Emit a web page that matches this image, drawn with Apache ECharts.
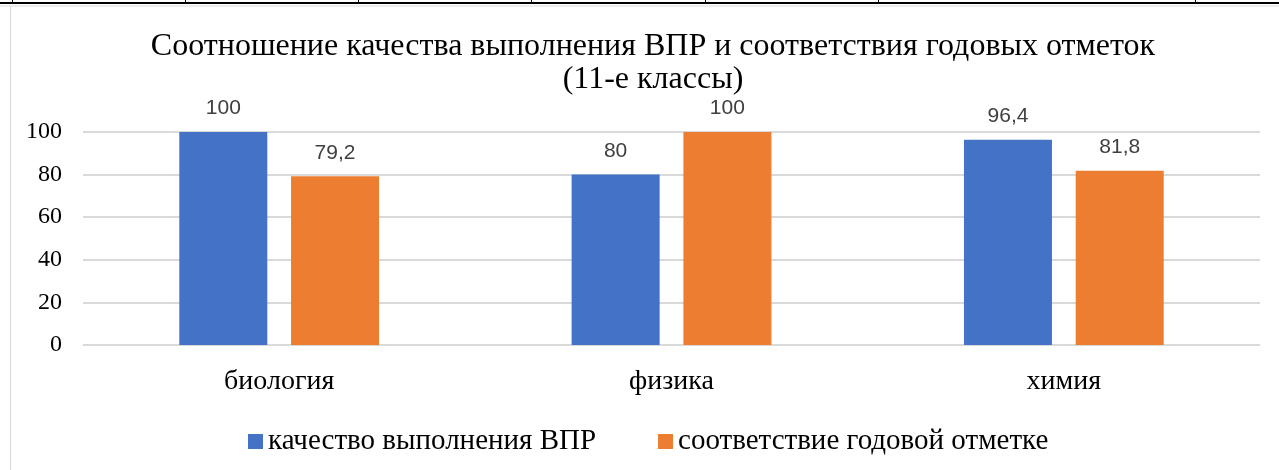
<!DOCTYPE html>
<html>
<head>
<meta charset="utf-8">
<script src="https://cdn.jsdelivr.net/npm/echarts@6/dist/echarts.min.js"></script>
<style>
  html, body { margin: 0; padding: 0; background: #fff; }
  #chart { width: 1279px; height: 470px; }
</style>
</head>
<body>
<div id="chart"></div>
<script>
const categories = ["биология", "физика", "химия"];
const seriesNames = ["качество выполнения ВПР", "соответствие годовой отметке"];
const qualityValues = [100, 80, 96.4];
const gradeValues = [79.2, 100, 81.8];
const yTicks = [0, 20, 40, 60, 80, 100];

const serif = "Liberation Serif";
const sans = "Liberation Sans";

const chart = echarts.init(document.getElementById("chart"));

// page frame seen in the screenshot (table border above, left edge)
const frameX = [12, 185, 358, 531, 705, 878, 1195];
const frame = [
  { type: "line", shape: { x1: 0, y1: 3, x2: 1279, y2: 3 }, style: { stroke: "#000", lineWidth: 2 } },
  { type: "line", shape: { x1: 0, y1: 6, x2: 1279, y2: 6 }, style: { stroke: "#d9d9d9", lineWidth: 1 } },
  { type: "line", shape: { x1: 10.5, y1: 6, x2: 10.5, y2: 470 }, style: { stroke: "#d9d9d9", lineWidth: 1 } },
].concat(frameX.map((x) => ({
  type: "line", shape: { x1: x + 0.5, y1: 0, x2: x + 0.5, y2: 3 }, style: { stroke: "#000", lineWidth: 1 },
})));

const labelStyle = {
  show: true,
  position: "top",
  distance: 13,
  color: "#404040",
  fontFamily: sans,
  fontSize: 21,
  formatter: (p) => String(p.value).replace(".", ","),
};

const option = {
  animation: false,
  graphic: frame,
  title: {
    text: "Соотношение качества выполнения ВПР и соответствия годовых отметок\n(11-е классы)",
    left: 648,
    textAlign: "center",
    top: 25,
    textStyle: {
      fontFamily: serif,
      fontWeight: "normal",
      fontSize: 32,
      lineHeight: 33,
      color: "#000",
    },
  },
  legend: {
    data: seriesNames,
    top: 422,
    left: 243,
    itemWidth: 15,
    itemHeight: 15,
    itemGap: 62,
    icon: "rect",
    textStyle: { fontFamily: serif, fontSize: 29, color: "#000" },
  },
  grid: {
    left: 83,
    right: 19,
    top: 132,
    bottom: 125,
  },
  xAxis: {
    type: "category",
    data: categories,
    axisLine: { show: true, lineStyle: { color: "#d9d9d9" } },
    axisTick: { show: false },
    axisLabel: { fontFamily: serif, fontSize: 28, color: "#000", margin: 23 },
  },
  yAxis: {
    type: "value",
    min: yTicks[0],
    max: yTicks[yTicks.length - 1],
    interval: 20,
    axisLine: { show: false },
    axisTick: { show: false },
    axisLabel: { fontFamily: serif, fontSize: 24, color: "#000", margin: 21 },
    splitLine: { lineStyle: { color: "#d9d9d9", width: 2 } },
  },
  series: [
    {
      name: seriesNames[0],
      type: "bar",
      data: qualityValues,
      barWidth: 88,
      barGap: "27%",
      itemStyle: { color: "#4472c4" },
      label: labelStyle,
    },
    {
      name: seriesNames[1],
      type: "bar",
      data: gradeValues,
      barWidth: 88,
      itemStyle: { color: "#ed7d31" },
      label: labelStyle,
    },
  ],
};

chart.setOption(option);
</script>
</body>
</html>
